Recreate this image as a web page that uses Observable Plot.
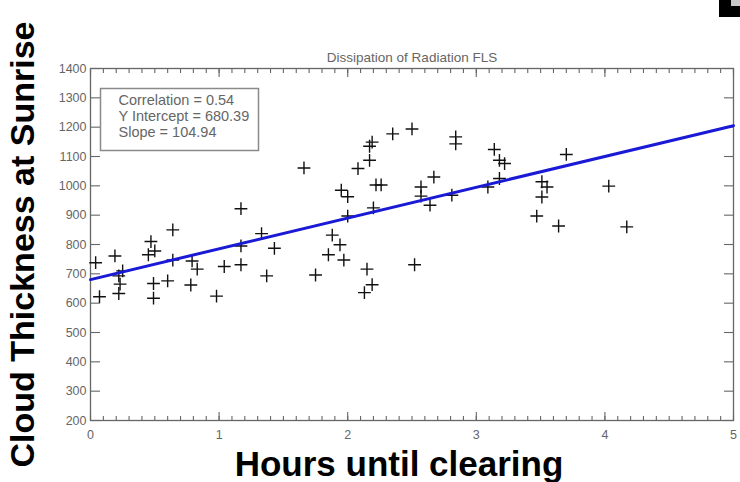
<!DOCTYPE html>
<html><head><meta charset="utf-8">
<script src="https://cdn.jsdelivr.net/npm/d3@7"></script>
<script src="https://cdn.jsdelivr.net/npm/@observablehq/plot@0.6"></script>
<style>
body{margin:0;background:#fff;}
#wrap{position:relative;width:740px;height:482px;}
#corner{position:absolute;right:0;top:0;width:21px;height:17px;background:#000;}
#corner::after{content:"";position:absolute;right:0;top:0;width:9px;height:6px;background:#c8c8c8;}
</style></head><body><div id="wrap"><div id="corner"></div></div>
<script>
const hours = [0.04,0.07,0.19,0.22,0.23,0.25,0.22,0.47,0.50,0.45,0.49,0.49,0.60,0.64,0.64,0.78,0.79,0.83,0.98,
  1.66,2.08,1.95,2.00,2.00,1.17,1.33,1.17,1.43,1.04,1.17,1.37,1.75,1.88,1.94,1.85,1.97,
  2.19,2.17,2.35,2.50,2.84,2.84,2.17,2.22,2.26,2.20,2.67,2.57,2.57,2.64,2.81,2.15,2.19,2.13,2.52,
  3.14,3.18,3.22,3.18,3.09,3.70,3.51,3.55,3.51,3.47,3.64,4.03,4.17];
const thickness = [738,622,761,693,665,710,633,810,778,765,667,617,676,850,747,662,744,716,624,
  1061,1059,985,963,897,922,837,795,787,725,731,693,696,832,799,765,747,
  1149,1135,1177,1194,1167,1143,1087,1003,1003,925,1030,996,965,934,968,716,663,636,731,
  1124,1087,1076,1025,996,1107,1014,996,962,897,863,999,860];
const xDomain = [0, 5];
const yDomain = [200, 1400];
const xTicks = [0, 1, 2, 3, 4, 5];
const yTicks = [200, 300, 400, 500, 600, 700, 800, 900, 1000, 1100, 1200, 1300, 1400];
const title = "Dissipation of Radiation FLS";
const statLabels = ["Correlation", "Y Intercept", "Slope"];
const statValues = ["0.54", "680.39", "104.94"];
const xLabel = "Hours until clearing";
const yLabel = "Cloud Thickness at Sunrise";

const points = hours.map((h, i) => ({h, t: thickness[i]}));
const intercept = +statValues[1], slope = +statValues[2];
const statText = statLabels.map((l, i) => `${l} = ${statValues[i]}`).join("\n");
const gray = "#666";
const tickFont = "Liberation Sans, Arial, sans-serif";
const noText = {fill: "none", tickFormat: () => "", stroke: gray, strokeWidth: 1.1};
const fmt = d3.format("d");

const chart = Plot.plot({
  width: 740, height: 482,
  marginLeft: 90, marginRight: 7, marginTop: 68, marginBottom: 62,
  style: {fontFamily: tickFont, background: "#fff"},
  x: {domain: xDomain, label: null},
  y: {domain: yDomain, label: null},
  marks: [
    Plot.frame({stroke: gray, strokeWidth: 1.3}),
    // inward ticks, IDL style (shifted inside the frame by their own length)
    Plot.axisY({anchor: "left", ticks: yTicks, tickSize: 10, dx: 10, ...noText}),
    Plot.axisY({anchor: "right", ticks: yTicks, tickSize: 10, dx: -10, ...noText}),
    Plot.axisX({anchor: "bottom", ticks: 50, tickSize: 4, dy: -4, ...noText}),
    Plot.axisX({anchor: "top", ticks: 50, tickSize: 4, dy: 4, ...noText}),
    Plot.axisX({anchor: "bottom", ticks: xTicks, tickSize: 8, dy: -8, ...noText}),
    Plot.axisX({anchor: "top", ticks: xTicks, tickSize: 8, dy: 8, ...noText}),
    // tick labels
    Plot.axisY({anchor: "left", ticks: yTicks, tickSize: 0, tickPadding: 4, tickFormat: fmt, fill: gray, fontSize: 12.5}),
    Plot.axisX({anchor: "bottom", ticks: xTicks, tickSize: 0, tickPadding: 10, tickFormat: fmt, fill: gray, fontSize: 12.5}),
    // stats box
    Plot.frame({stroke: "#8a8a8a", strokeWidth: 1.5, insetLeft: 10, insetTop: 20, insetRight: 475, insetBottom: 270}),
    Plot.text([statText], {frameAnchor: "top-left", dx: 28, dy: 25, lineAnchor: "top", lineHeight: 1.1,
      fontSize: 14.5, fill: gray, textAnchor: "start"}),
    // data
    Plot.dot(points, {x: "h", y: "t", symbol: "plus", r: 4.2, stroke: "#111", strokeWidth: 1.4}),
    Plot.line(xDomain, {x: d => d, y: d => intercept + slope * d, stroke: "#1a1ad6", strokeWidth: 3}),
    // title & big labels
    Plot.text([title], {frameAnchor: "top", dy: -11, lineAnchor: "middle", fontSize: 13.5, fill: gray}),
    Plot.text([xLabel], {frameAnchor: "bottom", dy: 44, dx: -13, lineAnchor: "middle", textAnchor: "middle",
      fontSize: 35, fontWeight: "bold", fill: "#000"}),
    Plot.text([yLabel], {frameAnchor: "left", dx: -67, dy: 0, rotate: -90, lineAnchor: "middle", textAnchor: "middle",
      fontSize: 34, fontWeight: "bold", fill: "#000"})
  ]
});
document.getElementById("wrap").prepend(chart);
</script></body></html>
